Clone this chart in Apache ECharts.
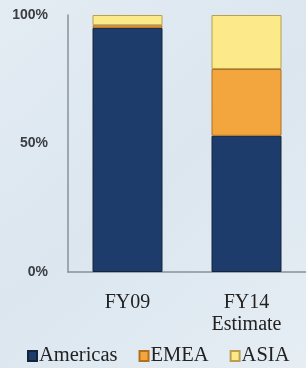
<!DOCTYPE html>
<html>
<head>
<meta charset="utf-8">
<script src="https://cdn.jsdelivr.net/npm/echarts@6/dist/echarts.min.js"></script>
<style>
  html, body { margin: 0; padding: 0; }
  #chart { width: 306px; height: 368px; }
</style>
</head>
<body>
<div id="chart"></div>
<script>
// share of revenue by region (%)
const categories = ['FY09', 'FY14\nEstimate'];
const americas = [95, 53];
const emea = [1, 26];
const asia = [4, 21];
const yTicks = [0, 50, 100];

const chart = echarts.init(document.getElementById('chart'));

const barBase = {
  type: 'bar',
  stack: 'total',
  barWidth: 70
};

chart.setOption({
  backgroundColor: {
    type: 'linear', x: 0, y: 0, x2: 1, y2: 1,
    colorStops: [
      { offset: 0, color: '#e4ecf3' },
      { offset: 0.5, color: '#dbe6ef' },
      { offset: 1, color: '#e6eef4' }
    ]
  },
  animation: false,
  grid: { left: 68, top: 15, width: 240, bottom: 96 },
  legend: {
    data: ['Americas', 'EMEA', 'ASIA'],
    left: 22,
    top: 340,
    icon: 'rect',
    itemWidth: 9,
    itemHeight: 10,
    itemGap: 21,
    textStyle: { fontFamily: 'Liberation Serif', fontSize: 20.5, lineHeight: 22, color: '#222', padding: [0, 0, 0, -3] }
  },
  xAxis: {
    type: 'category',
    data: categories,
    axisLine: { lineStyle: { color: '#8a9099', width: 1.5 } },
    axisTick: { show: false },
    axisLabel: {
      margin: 20,
      fontFamily: 'Liberation Serif',
      fontSize: 20,
      lineHeight: 22,
      color: '#222'
    }
  },
  yAxis: {
    type: 'value',
    min: 0,
    max: 100,
    interval: 50,
    axisLine: { show: true, lineStyle: { color: '#8a9099', width: 1.5 } },
    axisTick: { show: false },
    splitLine: { show: false },
    axisLabel: {
      margin: 20,
      fontFamily: 'Liberation Sans',
      fontSize: 14,
      fontWeight: 'bold',
      color: '#3a3d42',
      padding: [4, 0, 0, 0],
      formatter: v => yTicks.includes(v) ? v + '%' : ''
    }
  },
  series: [
    Object.assign({}, barBase, {
      name: 'Americas', data: americas,
      itemStyle: { color: '#1e3c6b', borderColor: '#15243a', borderWidth: 1 }
    }),
    Object.assign({}, barBase, {
      name: 'EMEA', data: emea,
      itemStyle: { color: '#f3a53e', borderColor: '#b07020', borderWidth: 1 }
    }),
    Object.assign({}, barBase, {
      name: 'ASIA', data: asia,
      itemStyle: { color: '#fbe98a', borderColor: '#b8a050', borderWidth: 1 }
    })
  ]
});
</script>
</body>
</html>
